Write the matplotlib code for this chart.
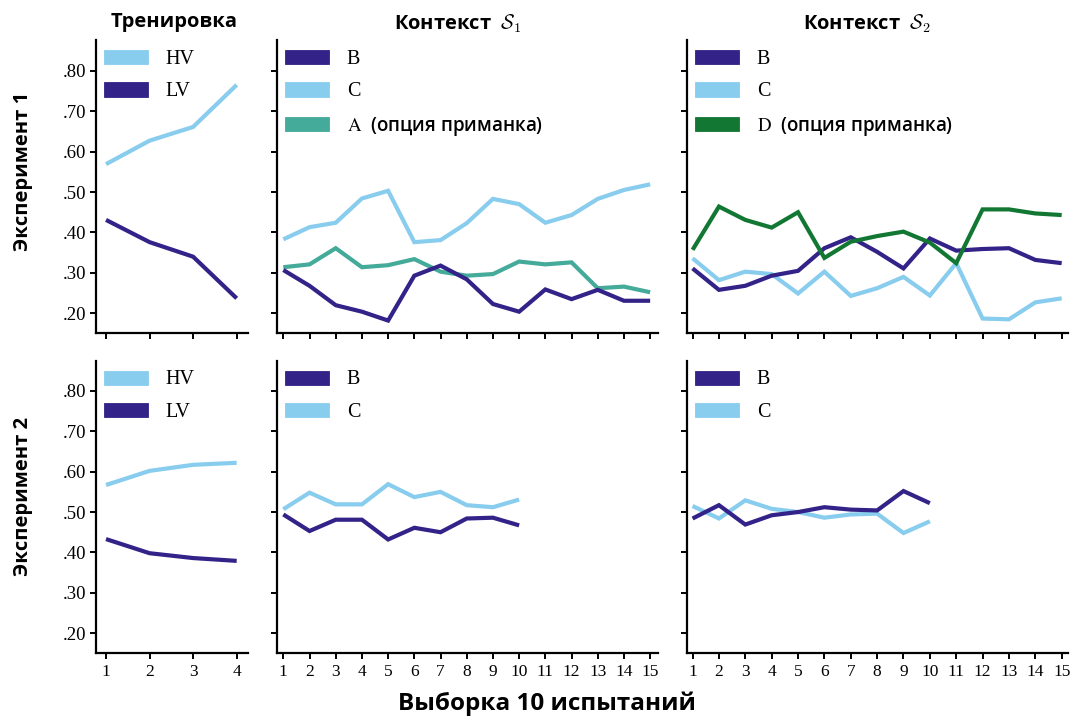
import matplotlib
matplotlib.use("Agg")
import matplotlib.pyplot as plt
from matplotlib.patches import Patch
from matplotlib.font_manager import FontProperties

# ---------------- data ----------------
train_x = [1, 2, 3, 4]
ctx_x = list(range(1, 16))
ctx_x2 = list(range(1, 11))

exp1_train_hv = [0.569, 0.627, 0.661, 0.765]
exp1_train_lv = [0.431, 0.376, 0.340, 0.237]

exp1_s1_b = [0.307, 0.268, 0.220, 0.204, 0.182, 0.293, 0.318, 0.284, 0.223, 0.204,
             0.259, 0.235, 0.258, 0.231, 0.231]
exp1_s1_c = [0.383, 0.413, 0.424, 0.484, 0.503, 0.376, 0.381, 0.423, 0.483, 0.470,
             0.424, 0.443, 0.483, 0.505, 0.519]
exp1_s1_a = [0.314, 0.321, 0.361, 0.314, 0.319, 0.334, 0.303, 0.293, 0.297, 0.328,
             0.321, 0.326, 0.262, 0.266, 0.252]

exp1_s2_b = [0.311, 0.258, 0.268, 0.293, 0.305, 0.361, 0.388, 0.352, 0.311, 0.385,
             0.355, 0.359, 0.361, 0.332, 0.324]
exp1_s2_c = [0.336, 0.282, 0.303, 0.297, 0.249, 0.303, 0.243, 0.262, 0.290, 0.244,
             0.324, 0.187, 0.185, 0.227, 0.237]
exp1_s2_d = [0.357, 0.464, 0.431, 0.412, 0.450, 0.337, 0.377, 0.391, 0.402, 0.375,
             0.324, 0.457, 0.457, 0.447, 0.443]

exp2_train_hv = [0.567, 0.602, 0.617, 0.622]
exp2_train_lv = [0.433, 0.398, 0.386, 0.379]

exp2_s1_b = [0.494, 0.453, 0.481, 0.481, 0.432, 0.461, 0.450, 0.484, 0.486, 0.467]
exp2_s1_c = [0.507, 0.548, 0.519, 0.519, 0.569, 0.537, 0.550, 0.517, 0.512, 0.531]

exp2_s2_b = [0.484, 0.517, 0.469, 0.492, 0.500, 0.512, 0.506, 0.504, 0.552, 0.522]
exp2_s2_c = [0.515, 0.484, 0.529, 0.508, 0.500, 0.486, 0.494, 0.496, 0.448, 0.477]

y_ticks = [0.20, 0.30, 0.40, 0.50, 0.60, 0.70, 0.80]
y_tick_labels = [".20", ".30", ".40", ".50", ".60", ".70", ".80"]

col_titles = ["Тренировка", r"Контекст  $\mathcal{S}_1$", r"Контекст  $\mathcal{S}_2$"]
row_titles = ["Эксперимент 1", "Эксперимент 2"]
x_label = "Выборка 10 испытаний"

C_DARK = "#332288"
C_LIGHT = "#88CCEE"
C_TEAL = "#44AA99"
C_GREEN = "#117733"

# ---------------- figure ----------------
W, H = 1071, 717
fig = plt.figure(figsize=(W / 100, H / 100), dpi=100)

SANS = "Open Sans"
SERIF = "Liberation Serif"

def px_rect(x0, y0, x1, y1):
    return [x0 / W, 1 - y1 / H, (x1 - x0) / W, (y1 - y0) / H]

cols_px = [(96, 248), (277.3, 658), (687.3, 1068)]
rows_px = [(40, 332.7), (360.7, 653.3)]
xlims = [(0.77, 4.26), (0.77, 15.3), (0.80, 15.24)]
ylims = [(0.152, 0.876), (0.150, 0.875)]

leg_prop = FontProperties(family=SANS, weight="semibold", size=13.5, math_fontfamily="stix")
serif_prop = FontProperties(family=SERIF, size=14.5)

def style_axes(ax, col, row):
    for s in ["top", "right"]:
        ax.spines[s].set_visible(False)
    for s in ["left", "bottom"]:
        ax.spines[s].set_linewidth(1.6)
        ax.spines[s].set_color("black")
    ax.tick_params(direction="out", length=4, width=1.4, color="black")
    ax.set_ylim(*ylims[row])
    ax.set_xlim(*xlims[col])
    ax.set_yticks(y_ticks)
    if col == 0:
        ax.set_yticklabels(y_tick_labels, fontfamily=SERIF, fontsize=13.5)
        ax.tick_params(axis="y", pad=3)
    else:
        ax.set_yticklabels([])
    xt = train_x if col == 0 else ctx_x
    ax.set_xticks(xt)
    if row == 1:
        ax.set_xticklabels([str(v) for v in xt], fontfamily=SERIF, fontsize=12.5)
        ax.tick_params(axis="x", pad=4)
    else:
        ax.set_xticklabels([])

def add_legend(ax, entries, col):
    handles = [Patch(facecolor=c, edgecolor=c, linewidth=0.6) for c, _ in entries]
    labels = [lab for _, lab in entries]
    x0, x1 = cols_px[col]
    y0, y1 = rows_px[0]
    fx = 7.5 / (x1 - x0)
    fy = 1 - 9.5 / (y1 - y0)
    leg = ax.legend(handles, labels, loc="upper left", bbox_to_anchor=(fx, fy),
                    frameon=False, borderpad=0, borderaxespad=0, prop=leg_prop,
                    handlelength=2.35, handleheight=0.8, handletextpad=0.95,
                    labelspacing=0.72)
    for t in leg.get_texts():
        if "$" not in t.get_text():
            t.set_fontproperties(serif_prop)

LW = 3.0
series = {
    (0, 0): [(train_x, exp1_train_hv, C_LIGHT), (train_x, exp1_train_lv, C_DARK)],
    (0, 1): [(ctx_x, exp1_s1_c, C_LIGHT), (ctx_x, exp1_s1_a, C_TEAL), (ctx_x, exp1_s1_b, C_DARK)],
    (0, 2): [(ctx_x, exp1_s2_c, C_LIGHT), (ctx_x, exp1_s2_b, C_DARK), (ctx_x, exp1_s2_d, C_GREEN)],
    (1, 0): [(train_x, exp2_train_hv, C_LIGHT), (train_x, exp2_train_lv, C_DARK)],
    (1, 1): [(ctx_x2, exp2_s1_c, C_LIGHT), (ctx_x2, exp2_s1_b, C_DARK)],
    (1, 2): [(ctx_x2, exp2_s2_c, C_LIGHT), (ctx_x2, exp2_s2_b, C_DARK)],
}
legends = {
    0: [(C_LIGHT, "HV"), (C_DARK, "LV")],
    1: [(C_DARK, "B"), (C_LIGHT, "C"),
        (C_TEAL, r"$\mathrm{A}$  (опция приманка)")],
    2: [(C_DARK, "B"), (C_LIGHT, "C"),
        (C_GREEN, r"$\mathrm{D}$  (опция приманка)")],
}
legends_row2 = {
    0: [(C_LIGHT, "HV"), (C_DARK, "LV")],
    1: [(C_DARK, "B"), (C_LIGHT, "C")],
    2: [(C_DARK, "B"), (C_LIGHT, "C")],
}

for row in range(2):
    for col in range(3):
        x0, x1 = cols_px[col]
        y0, y1 = rows_px[row]
        ax = fig.add_axes(px_rect(x0, y0, x1, y1))
        style_axes(ax, col, row)
        for xs, ys, c in series[(row, col)]:
            ax.plot(xs, ys, color=c, lw=LW, solid_joinstyle="miter", solid_capstyle="butt")
        add_legend(ax, (legends if row == 0 else legends_row2)[col], col)

# column titles
title_pos = [(174, 22), (458, 24), (867, 24)]
for (tx, ty), t in zip(title_pos, col_titles):
    fig.text(tx / W, 1 - ty / H, t, ha="center", va="center",
             fontfamily=SANS, fontweight="bold", fontsize=14.5, math_fontfamily="cm")

# row titles
row_pos = [(23, 171), (23, 496)]
for (tx, ty), t in zip(row_pos, row_titles):
    fig.text(tx / W, 1 - ty / H, t, ha="center", va="center", rotation=90,
             fontfamily=SANS, fontweight="bold", fontsize=14.5)

fig.text(547 / W, 1 - 704 / H, x_label, ha="center", va="center",
         fontfamily=SANS, fontweight="bold", fontsize=17.5)

fig.savefig("out.png", dpi=100)
